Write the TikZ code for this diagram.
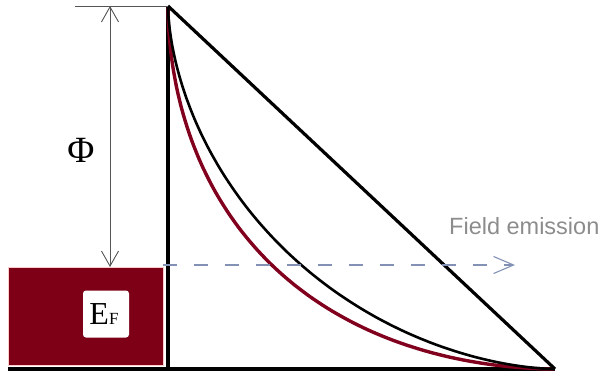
\documentclass[tikz,border=0pt]{standalone}
\usepackage{fontspec}
\setmainfont{Liberation Serif}
\newfontfamily\labelsans{Liberation Sans}
\usetikzlibrary{arrows.meta}
\definecolor{barrierred}{RGB}{128,0,30}
\definecolor{metalred}{RGB}{125,0,22}
\definecolor{emitblue}{RGB}{130,145,180}
\definecolor{dimgray}{RGB}{85,85,85}
\definecolor{labelgray}{RGB}{140,140,140}
\tikzset{
  metalbox/.style={fill=metalred, draw=red!20, line width=0.8pt, minimum width=155pt, minimum height=98pt, inner sep=0pt},
  efbox/.style={fill=white, rounded corners=3pt, minimum width=46pt, minimum height=47pt, inner sep=0pt},
  axisline/.style={line width=3.2pt, black},
  blackcurve/.style={line width=2.6pt, black},
  redcurve/.style={line width=3.4pt, barrierred},
  dimline/.style={line width=0.9pt, dimgray},
  emitline/.style={line width=1.1pt, emitblue, dash pattern=on 14pt off 17pt, -{Straight Barb[length=20pt,width=17pt,line width=1.1pt]}},
}
\begin{document}
\begin{tikzpicture}[x=1pt,y=-1pt]
\useasboundingbox (0,0) rectangle (611,377);
\coordinate (apex) at (168,6);
\coordinate (tip) at (555,369);
\coordinate (base) at (168,369);
\coordinate (leftbase) at (8,369);
\coordinate (topleft) at (75,6);
\coordinate (phitop) at (110,6);
\coordinate (phibot) at (110,267);
\coordinate (fermi) at (163,265);
\coordinate (emitend) at (515,265);

\node[metalbox] (metal) at (85.5,316) {};
\node[efbox] (ef) at (106,314) {\hspace*{-4pt}\fontsize{32}{32}\selectfont E\fontsize{17}{17}\selectfont F};

\draw[axisline] (leftbase) -- (tip);
\draw[axisline] (base) -- (apex);

\draw[redcurve] plot[domain=0:90, samples=150, variable=\t] ({168+387*pow(abs(cos(\t)),3.7)}, {6+363*(1-pow(abs(sin(\t)),3.7))});
\draw[blackcurve] plot[domain=0:90, samples=150, variable=\t] ({168+387*pow(abs(cos(\t)),3.333)}, {6+363*(1-pow(abs(sin(\t)),3.333))});

\draw[axisline] (apex) -- (tip);

\draw[emitline] (fermi) -- (emitend);

\draw[dimline] (topleft) -- (apex);
\draw[dimline, {Straight Barb[length=15pt,width=17pt,line width=0.9pt]}-{Straight Barb[length=15pt,width=17pt,line width=0.9pt]}] (phitop) -- (phibot);

\node (phi) at (81,150) {\fontsize{37}{37}\selectfont Φ};
\node[anchor=base west, inner sep=0pt, text=labelgray] (field) at (449,235) {\labelsans\fontsize{23.5}{23.5}\selectfont Field emission};
\end{tikzpicture}
\end{document}
